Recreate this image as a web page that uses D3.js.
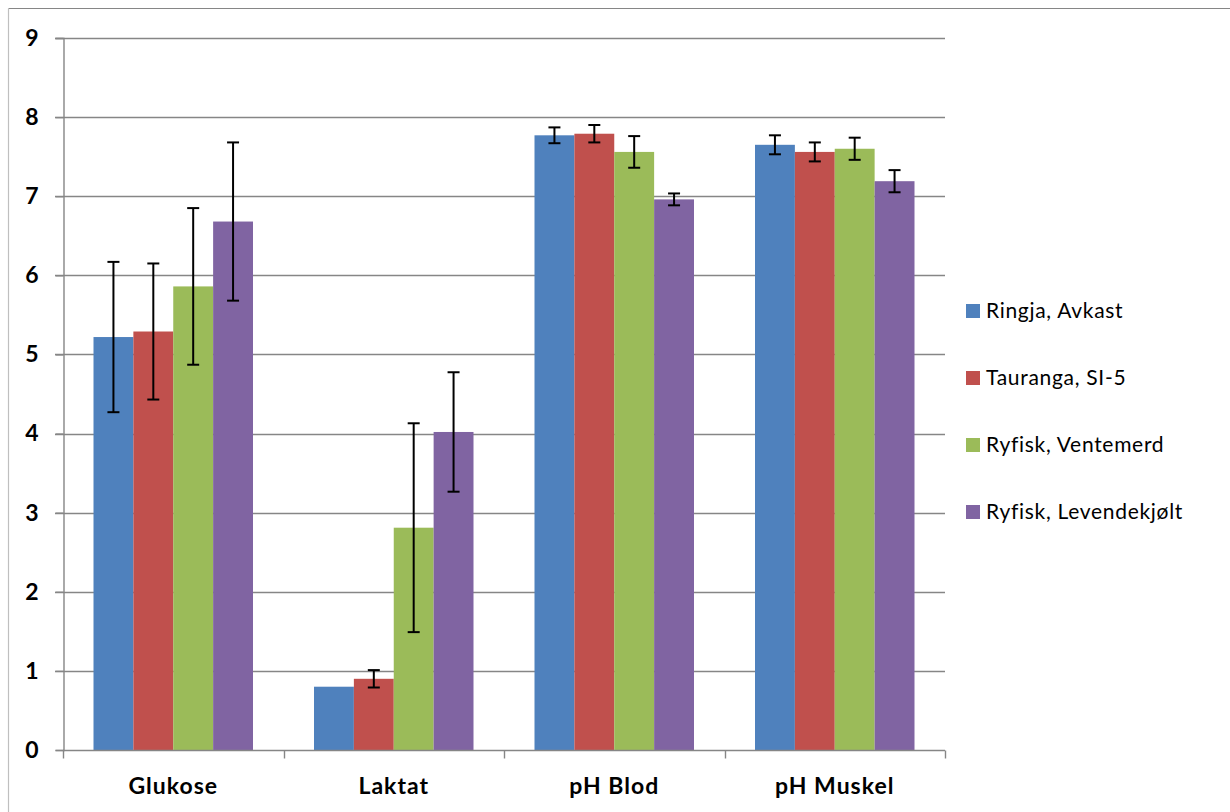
<!DOCTYPE html>
<html>
<head>
<meta charset="utf-8">
<script src="https://cdn.jsdelivr.net/npm/d3@7"></script>
<style>
  html, body { margin: 0; padding: 0; background: #fff; }
  svg { display: block; }
  text { font-family: Lato, "Open Sans", sans-serif; }
</style>
</head>
<body>
<svg id="chart" width="1230" height="812"></svg>
<script>
const categories = ["Glukose", "Laktat", "pH Blod", "pH Muskel"];
const seriesNames = ["Ringja, Avkast", "Tauranga, SI-5", "Ryfisk, Ventemerd", "Ryfisk, Levendekjølt"];
const seriesColors = ["#4f81bd", "#c0504d", "#9bbb59", "#8064a2"];
const ringjaValues = [5.22, 0.80, 7.77, 7.65];
const ringjaErrors = [0.95, null, 0.10, 0.12];
const taurangaValues = [5.29, 0.90, 7.79, 7.56];
const taurangaErrors = [0.86, 0.11, 0.11, 0.12];
const ventemerdValues = [5.86, 2.81, 7.56, 7.60];
const ventemerdErrors = [0.99, 1.32, 0.20, 0.14];
const levendeValues = [6.68, 4.02, 6.96, 7.19];
const levendeErrors = [1.00, 0.755, 0.075, 0.14];
const yTicks = [0, 1, 2, 3, 4, 5, 6, 7, 8, 9];

const seriesValues = [ringjaValues, taurangaValues, ventemerdValues, levendeValues];
const seriesErrors = [ringjaErrors, taurangaErrors, ventemerdErrors, levendeErrors];

const svg = d3.select("#chart");
const plot = { left: 63, right: 945, top: 38, bottom: 750 };

// outer frame (top and left visible)
svg.append("line").attr("x1", 8.5).attr("x2", 1230).attr("y1", 8.5).attr("y2", 8.5)
  .attr("stroke", "#868686").attr("stroke-width", 1.2);
svg.append("line").attr("x1", 8.5).attr("x2", 8.5).attr("y1", 8.5).attr("y2", 812)
  .attr("stroke", "#bfbfbf").attr("stroke-width", 1.2);

const y = d3.scaleLinear().domain([0, 9]).range([plot.bottom, plot.top]);
const x0 = d3.scaleBand().domain(categories).range([plot.left, plot.right]).padding(0);
const gap = x0.bandwidth() * 30.5 / 220.5;
const x1 = d3.scaleBand().domain(d3.range(seriesNames.length)).range([gap, x0.bandwidth() - gap]).padding(0);

// gridlines
svg.append("g").selectAll("line").data(yTicks.filter(d => d > 0)).join("line")
  .attr("x1", plot.left - 8).attr("x2", plot.right)
  .attr("y1", d => Math.round(y(d)) + 0.5).attr("y2", d => Math.round(y(d)) + 0.5)
  .attr("stroke", "#868686").attr("stroke-width", 1.4);

// y axis
const yAxis = d3.axisLeft(y).tickValues(yTicks).tickSize(8).tickPadding(17).tickFormat(d3.format("d"));
const gy = svg.append("g").attr("transform", `translate(${plot.left + 0.5},0)`).call(yAxis);
gy.select(".domain").attr("stroke", "#868686").attr("stroke-width", 1.4);
gy.selectAll(".tick line").attr("stroke", "#868686").attr("stroke-width", 1.4);
gy.selectAll(".tick text").attr("font-size", 23).attr("font-weight", "bold").attr("fill", "#000")
  .attr("font-family", "Lato, sans-serif");

// bars
const groups = svg.append("g").selectAll("g").data(categories).join("g")
  .attr("transform", d => `translate(${x0(d)},0)`);

groups.each(function(cat, ci) {
  const g = d3.select(this);
  seriesNames.forEach((s, si) => {
    const v = seriesValues[si][ci];
    g.append("rect")
      .attr("x", x1(si)).attr("width", x1.bandwidth())
      .attr("y", y(v)).attr("height", y(0) - y(v))
      .attr("fill", seriesColors[si]);
  });
});

// x axis
const xAxisG = svg.append("g").attr("transform", `translate(0,${plot.bottom + 0.5})`);
xAxisG.append("line").attr("x1", plot.left).attr("x2", plot.right).attr("stroke", "#868686").attr("stroke-width", 1.4);
const boundaries = categories.map(c => x0(c)).concat([plot.right]);
xAxisG.selectAll("line.tk").data(boundaries).join("line").attr("class", "tk")
  .attr("x1", d => Math.round(d) + 0.5).attr("x2", d => Math.round(d) + 0.5)
  .attr("y1", 0).attr("y2", 8).attr("stroke", "#868686").attr("stroke-width", 1.4);
xAxisG.selectAll("text").data(categories).join("text")
  .attr("x", d => x0(d) + x0.bandwidth() / 2).attr("y", 43)
  .attr("text-anchor", "middle").attr("font-size", 23).attr("font-weight", "bold").attr("fill", "#000")
  .attr("letter-spacing", 1)
  .text(d => d);

// error bars
groups.each(function(cat, ci) {
  const g = d3.select(this);
  seriesNames.forEach((s, si) => {
    const v = seriesValues[si][ci];
    const e = seriesErrors[si][ci];
    if (e == null) return;
    const cx = x1(si) + x1.bandwidth() / 2;
    const eg = g.append("g").attr("stroke", "#000").attr("stroke-width", 2);
    eg.append("line").attr("x1", cx).attr("x2", cx).attr("y1", y(v + e)).attr("y2", y(v - e));
    eg.append("line").attr("x1", cx - 6).attr("x2", cx + 6).attr("y1", y(v + e)).attr("y2", y(v + e));
    eg.append("line").attr("x1", cx - 6).attr("x2", cx + 6).attr("y1", y(v - e)).attr("y2", y(v - e));
  });
});

// legend
const legend = svg.append("g").selectAll("g").data(seriesNames).join("g")
  .attr("transform", (d, i) => `translate(966,${311 + i * 67})`);
legend.append("rect").attr("x", 0).attr("y", -7).attr("width", 14).attr("height", 14)
  .attr("fill", (d, i) => seriesColors[i]);
legend.append("text").attr("x", 20).attr("y", 0).attr("dy", "0.35em")
  .attr("font-size", 21).attr("letter-spacing", 0.7).attr("fill", "#000").text(d => d);
</script>
</body>
</html>
